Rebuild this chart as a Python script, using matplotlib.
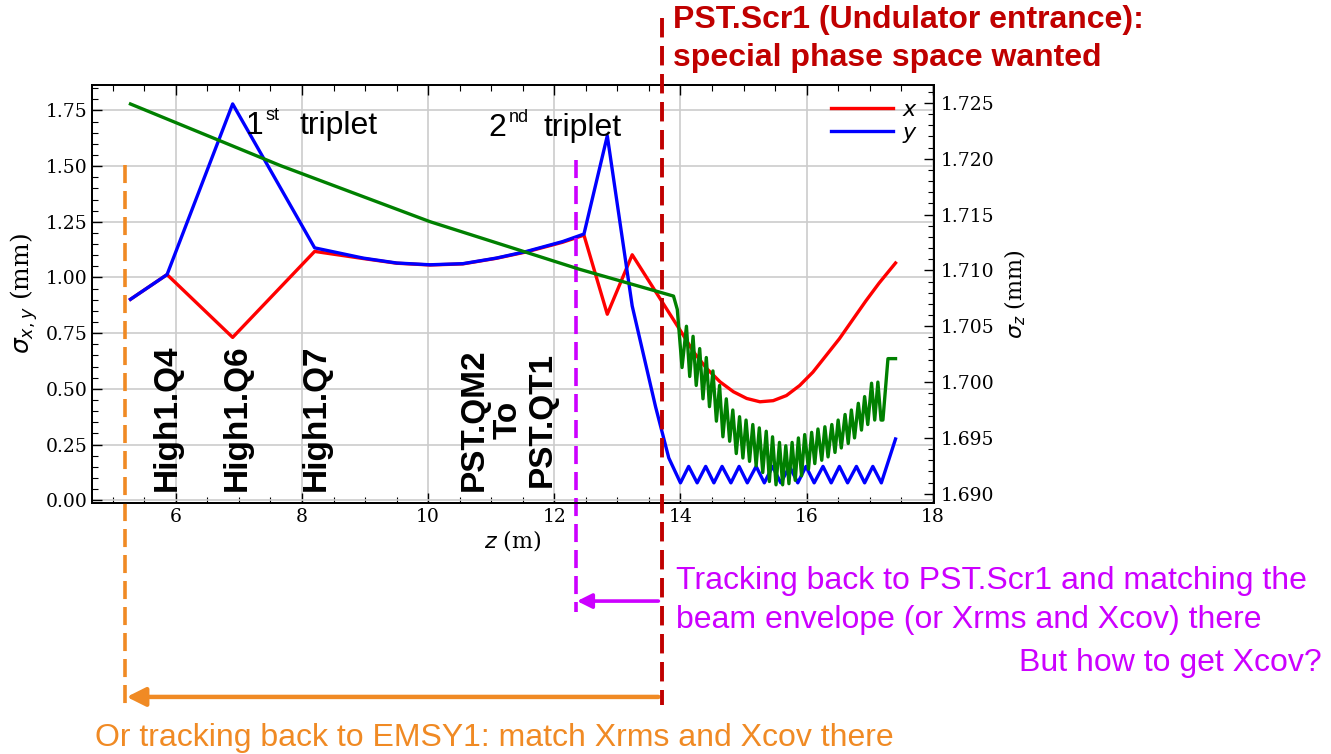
import matplotlib
matplotlib.use("Agg")
import matplotlib.pyplot as plt

# ---------------- data ----------------
# sigma_x (red)
z_x = [5.28, 5.86, 6.90, 8.20, 8.97, 9.50, 10.03, 10.55, 11.08, 11.56, 12.13, 12.47,
       12.84, 13.235, 14.0, 14.21, 14.42, 14.63, 14.84, 15.05, 15.26, 15.47, 15.68,
       15.89, 16.10, 16.31, 16.52, 16.73, 16.94, 17.15, 17.41]
sig_x = [0.902, 1.013, 0.731, 1.117, 1.085, 1.064, 1.056, 1.061, 1.086, 1.115, 1.158, 1.19,
         0.835, 1.102, 0.761, 0.665, 0.590, 0.531, 0.487, 0.457, 0.442, 0.447, 0.470,
         0.515, 0.575, 0.65, 0.725, 0.81, 0.895, 0.975, 1.065]

# sigma_y (blue)
z_y = [5.28, 5.86, 6.90, 8.20, 8.97, 9.50, 10.03, 10.55, 11.08, 11.56, 12.13, 12.47,
       12.84, 13.235, 13.605, 13.815,
       14.00, 14.13, 14.265, 14.40, 14.53, 14.66, 14.80, 14.93, 15.06, 15.20, 15.33,
       15.46, 15.59, 15.73, 15.86, 15.99, 16.12, 16.26, 16.39, 16.52, 16.65, 16.79,
       16.92, 17.05, 17.185, 17.41]
sig_y = [0.902, 1.013, 1.779, 1.133, 1.087, 1.065, 1.057, 1.062, 1.087, 1.117, 1.161, 1.195,
         1.636, 0.872, 0.42, 0.19,
         0.078, 0.152, 0.078, 0.152, 0.078, 0.152, 0.078, 0.152, 0.078, 0.152, 0.078,
         0.152, 0.078, 0.152, 0.078, 0.152, 0.078, 0.152, 0.078, 0.152, 0.078, 0.152,
         0.078, 0.152, 0.078, 0.275]

# sigma_z (green, right axis)
z_z = [5.28, 7.65, 10.03, 12.40, 13.89, 13.95,
       14.025, 14.095, 14.147, 14.20, 14.25, 14.305, 14.357, 14.41, 14.46, 14.515,
       14.57, 14.62, 14.673, 14.727, 14.78, 14.83, 14.885, 14.937, 14.99, 15.04,
       15.095, 15.147, 15.20, 15.25, 15.305, 15.36, 15.41, 15.46, 15.515, 15.57,
       15.62, 15.67, 15.72, 15.77, 15.82, 15.87, 15.92, 15.97, 16.03, 16.08,
       16.13, 16.18, 16.24, 16.29, 16.34, 16.40, 16.45, 16.50, 16.55, 16.61,
       16.66, 16.71, 16.76, 16.82, 16.87, 16.92, 16.97, 17.03, 17.08, 17.13,
       17.18, 17.21, 17.29, 17.41]
sig_z = [1.7249, 1.7194, 1.71436, 1.7101, 1.7077, 1.7065,
         1.7013, 1.7050, 1.7005, 1.7041, 1.6997, 1.7030, 1.6985, 1.7022, 1.6978, 1.7010,
         1.6965, 1.6997, 1.6951, 1.6985, 1.6947, 1.6975, 1.6936, 1.6969, 1.6932, 1.6966,
         1.6929, 1.6962, 1.6925, 1.6959, 1.6919, 1.6956, 1.6911, 1.6951, 1.6908, 1.6946,
         1.6908, 1.6943, 1.6909, 1.6946, 1.6912, 1.6950, 1.6916, 1.6953, 1.6922, 1.6955,
         1.6927, 1.6958, 1.6930, 1.6960, 1.6933, 1.6962, 1.6937, 1.6966, 1.6941, 1.6971,
         1.6945, 1.6975, 1.6950, 1.6981, 1.6957, 1.6987, 1.6962, 1.6999, 1.6966, 1.7000,
         1.6966, 1.6966, 1.7021, 1.7021]

# marker positions along z
z_emsy1 = 5.20
z_qt1 = 12.34
z_scr1 = 13.70

quad_labels = ["High1.Q4", "High1.Q6", "High1.Q7", "PST.QM2\nTo\nPST.QT1"]
quad_px = [167, 237, 316, 508]

# ---------------- figure ----------------
W, H = 1331, 754
plt.rcParams['font.family'] = 'serif'
plt.rcParams['font.serif'] = ['DejaVu Serif']

fig = plt.figure(figsize=(W / 100, H / 100), dpi=100)
ax = fig.add_axes([92 / W, 1 - 502.7 / H, (934 - 92) / W, 417.7 / H])
ax2 = ax.twinx()

ORANGE = '#F08A24'
MAGENTA = '#CC00FF'
DARKRED = '#C00000'

ax.plot(z_x, sig_x, color='red', lw=2.4, label='$x$', zorder=3)
ax.plot(z_y, sig_y, color='blue', lw=2.4, label='$y$', zorder=4)
ax2.plot(z_z, sig_z, color='green', lw=2.4)

ax.set_xlim(4.67, 18.02)
ax.set_ylim(-0.011, 1.864)
ax2.set_ylim(1.6892, 1.7266)

ax.set_xticks([6, 8, 10, 12, 14, 16, 18])
ax.set_xticks([x / 2 for x in range(10, 37)], minor=True)
ax.set_yticks([0, 0.25, 0.5, 0.75, 1.0, 1.25, 1.5, 1.75])
ax.set_yticks([i * 0.05 for i in range(0, 38)], minor=True)
ax2.set_yticks([1.690, 1.695, 1.700, 1.705, 1.710, 1.715, 1.720, 1.725])
ax2.set_yticks([1.689 + i * 0.001 for i in range(1, 38)], minor=True)
ax.yaxis.set_major_formatter(matplotlib.ticker.FormatStrFormatter('%.2f'))
ax2.yaxis.set_major_formatter(matplotlib.ticker.FormatStrFormatter('%.3f'))

ax.tick_params(which='both', direction='in', top=True, right=False, labelsize=13.5)
ax.tick_params(which='major', length=7, width=1.0)
ax.tick_params(which='minor', length=4, width=0.8)
ax2.tick_params(which='both', direction='in', labelsize=13.5, pad=5)
ax2.tick_params(which='major', length=7, width=1.0)
ax2.tick_params(which='minor', length=4, width=0.8)

ax.grid(True, color='#cccccc', lw=1.2, zorder=0)
ax.set_axisbelow(True)
for sp in ax.spines.values():
    sp.set_linewidth(1.3)
for sp in ax2.spines.values():
    sp.set_linewidth(1.3)

ax.set_xlabel('$z$ (m)', fontsize=16, labelpad=2)
ax.set_ylabel(r'$\sigma_{x,y}$ (mm)', fontsize=18, labelpad=4)
ax2.set_ylabel(r'$\sigma_z$ (mm)', fontsize=16, labelpad=6)

ax.legend(loc='upper right', bbox_to_anchor=(1.005, 1.015), frameon=False, fontsize=16,
          handlelength=2.8, handletextpad=0.4, labelspacing=0.05)

# ---------------- dashed markers and arrows ----------------
xt = ax.get_xaxis_transform()
dash = (5, 2.2)
ax.plot([z_emsy1, z_emsy1], [0.808, -0.49], transform=xt, color=ORANGE, lw=2.6,
        dashes=dash, clip_on=False, zorder=5)
ax.plot([z_qt1, z_qt1], [0.82, -0.262], transform=xt, color=MAGENTA, lw=2.6,
        dashes=dash, clip_on=False, zorder=5)
ax2.plot([z_scr1, z_scr1], [1.16, -0.484], transform=ax2.get_xaxis_transform(),
         color=DARKRED, lw=2.8, dashes=dash, clip_on=False, zorder=6)

ax.annotate('', xy=(z_qt1 + 0.02, -0.2355), xytext=(z_scr1 - 0.05, -0.2355),
            xycoords=xt, textcoords=xt, annotation_clip=False,
            arrowprops=dict(arrowstyle='-|>', color=MAGENTA, lw=2.6, mutation_scale=22,
                            shrinkA=0, shrinkB=0))
ax.annotate('', xy=(z_emsy1 + 0.02, -0.465), xytext=(z_scr1 - 0.05, -0.465),
            xycoords=xt, textcoords=xt, annotation_clip=False,
            arrowprops=dict(arrowstyle='-|>', color=ORANGE, lw=3.2, mutation_scale=28,
                            shrinkA=0, shrinkB=0))


# ---------------- text annotations (figure pixels) ----------------
def fp(x, y):
    return x / W, 1 - y / H


sans = ['Liberation Sans', 'DejaVu Sans']

fig.text(*fp(673, 20), 'PST.Scr1 (Undulator entrance):', color=DARKRED, fontsize=23,
         fontweight='bold', family=sans, ha='left', va='center')
fig.text(*fp(673, 58), 'special phase space wanted', color=DARKRED, fontsize=23,
         fontweight='bold', family=sans, ha='left', va='center')

fig.text(*fp(246, 126), '1', fontsize=23, family=sans, ha='left', va='center')
fig.text(*fp(266, 115), 'st', fontsize=13, family=sans, ha='left', va='center')
fig.text(*fp(300, 126), 'triplet', fontsize=23, family=sans, ha='left', va='center')
fig.text(*fp(488, 128), '2', fontsize=23, family=sans, ha='left', va='center')
fig.text(*fp(509, 117), 'nd', fontsize=13, family=sans, ha='left', va='center')
fig.text(*fp(543, 128), 'triplet', fontsize=23, family=sans, ha='left', va='center')

for lab, xp in zip(quad_labels, quad_px):
    fig.text(*fp(xp, 491), lab, rotation=90, fontsize=24, fontweight='bold', family=sans,
             ha='center', va='bottom', multialignment='center', linespacing=1.12)

fig.text(*fp(676, 581), 'Tracking back to PST.Scr1 and matching the', color=MAGENTA,
         fontsize=23, family=sans, ha='left', va='center')
fig.text(*fp(676, 620), 'beam envelope (or Xrms and Xcov) there', color=MAGENTA,
         fontsize=23, family=sans, ha='left', va='center')
fig.text(*fp(1322, 663), 'But how to get Xcov?', color=MAGENTA,
         fontsize=23, family=sans, ha='right', va='center')
fig.text(*fp(95, 738), 'Or tracking back to EMSY1: match Xrms and Xcov there', color=ORANGE,
         fontsize=23, family=sans, ha='left', va='center')

fig.savefig('out.png', dpi=100)
